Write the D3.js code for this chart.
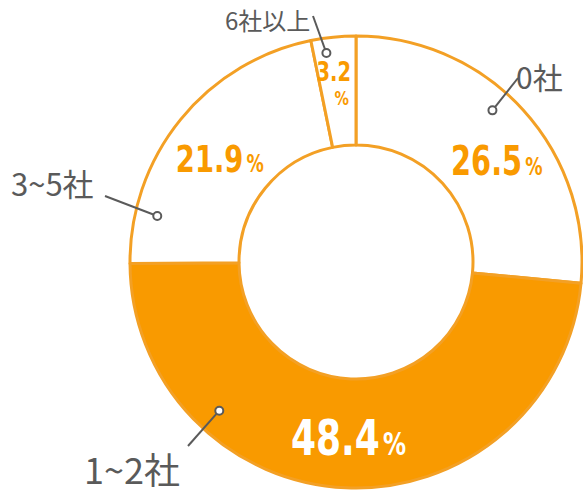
<!DOCTYPE html>
<html>
<head>
<meta charset="utf-8">
<script src="https://cdn.jsdelivr.net/npm/d3@7"></script>
<style>
  html, body { margin: 0; padding: 0; background: #fff; }
  svg { display: block; }
</style>
</head>
<body>
<div id="chart"></div>
<script>
const categories = ['0社', '1~2社', '3~5社', '6社以上'];
const values = [26.5, 48.4, 21.9, 3.2];
const highlighted = ['1~2社'];

const width = 583;
const height = 490;
const cx = 356;
const cy = 262;
const outerR = 226;
const innerR = 117;
const orange = '#f99a00';
const lineOrange = '#f3a025';
const grey = '#5a5a5a';

const data = categories.map((c, i) => ({key: c, value: values[i]}));

const svg = d3.select('#chart').append('svg')
  .attr('width', width)
  .attr('height', height);

const g = svg.append('g')
  .attr('transform', 'translate(' + cx + ',' + cy + ')');

const pie = d3.pie().sort(null).value(d => d.value);
const arcs = pie(data);

const arc = d3.arc().innerRadius(innerR).outerRadius(outerR);
const midArc = d3.arc().innerRadius((innerR + outerR) / 2).outerRadius((innerR + outerR) / 2);

g.selectAll('path.slice')
  .data(arcs)
  .enter()
  .append('path')
  .attr('class', 'slice')
  .attr('d', arc)
  .attr('fill', d => highlighted.includes(d.data.key) ? orange : '#fff')
  .attr('stroke', lineOrange)
  .attr('stroke-width', 3)
  .attr('stroke-linejoin', 'round');

// percentage labels: nudges from the ring centroid (layout only)
const pctStyle = {
  '0社': {dx: 14, dy: 28, size: 40, pct: 24, color: orange},
  '1~2社': {dx: 0, dy: 22, size: 50, pct: 32, color: '#fff'},
  '3~5社': {dx: -3, dy: 18, size: 38, pct: 24, color: orange},
  '6社以上': {dx: -5, dy: -10, size: 27, pct: 20, color: orange, stacked: true}
};

arcs.forEach(d => {
  const st = pctStyle[d.data.key];
  const [x, y] = midArc.centroid(d);
  const t = g.append('text')
    .attr('transform', 'translate(' + (x + st.dx) + ',' + (y + st.dy) + ') scale(0.8,1)')
    .attr('text-anchor', 'middle')
    .attr('font-family', '"DejaVu Sans Condensed", "DejaVu Sans", sans-serif')
    .attr('font-weight', 'bold')
    .attr('fill', st.color);
  if (st.stacked) {
    t.append('tspan').attr('font-size', st.size).attr('x', 0).text(d3.format('.1f')(d.data.value));
    t.append('tspan').attr('font-size', st.pct).attr('x', 10).attr('dy', 24).text('%');
  } else {
    t.append('tspan').attr('font-size', st.size).text(d3.format('.1f')(d.data.value));
    t.append('tspan').attr('font-size', st.pct).attr('dx', 4).text('%');
  }
});

// category callouts: dot angle (fraction of the slice), label end point, text placement
const callouts = {
  '0社': {t: 0.44, r: 204, lx: 162, ly: -184, tx: 160, ty: -173, anchor: 'start', size: 30},
  '1~2社': {t: 0.73, r: 202, lx: -168, ly: 184, tx: -272, ty: 222, anchor: 'start', size: 36},
  '3~5社': {t: 0.17, r: 204, lx: -251, ly: -66, tx: -345, ty: -66, anchor: 'start', size: 31},
  '6社以上': {t: 0.3, r: 211, lx: -43, ly: -246, tx: -131, ty: -232, anchor: 'start', size: 24}
};

arcs.forEach(d => {
  const c = callouts[d.data.key];
  const a = d.startAngle + (d.endAngle - d.startAngle) * c.t;
  const px = c.r * Math.sin(a);
  const py = -c.r * Math.cos(a);
  g.append('line')
    .attr('x1', px).attr('y1', py)
    .attr('x2', c.lx).attr('y2', c.ly)
    .attr('stroke', grey)
    .attr('stroke-width', 2);
  g.append('circle')
    .attr('cx', px).attr('cy', py)
    .attr('r', 4)
    .attr('fill', '#fff')
    .attr('stroke', grey)
    .attr('stroke-width', 2);
  g.append('text')
    .attr('x', c.tx).attr('y', c.ty)
    .attr('text-anchor', c.anchor)
    .attr('font-family', '"Noto Sans CJK JP", sans-serif')
    .attr('font-size', c.size)
    .attr('fill', grey)
    .text(d.data.key);
});
</script>
</body>
</html>
